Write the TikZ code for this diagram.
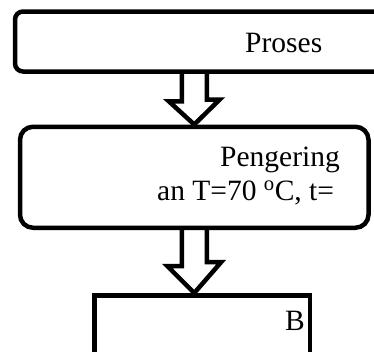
\documentclass[tikz,border=0pt]{standalone}
\usepackage{fontspec}
\setmainfont{Liberation Serif}

\begin{document}
\begin{tikzpicture}[x=1pt, y=-1pt,
    box/.style={draw, line width=4.5pt, inner sep=0pt},
    hollow/.style={draw, line width=4.5pt, line join=miter},
    txt/.style={inner sep=0pt, font=\fontsize{29.5}{33.5}\selectfont}]
    \useasboundingbox (0,0) rectangle (374,351);

    \node [box, rounded corners=8pt, minimum width=375pt, minimum height=60pt] (proses) at (202.5,41.5) {};
    \node [box, rounded corners=13pt, minimum width=348.5pt, minimum height=101pt] (pengering) at (194.25,124.5) [anchor=north] {};
    \node [box, minimum width=215.5pt, minimum height=80pt] (bahan) at (202.25,293) [anchor=north] {};

    \node [txt, anchor=base west] (tproses) at (245,52) {Proses};
    \node [txt, anchor=base west] (tpeng) at (220,166.5) {Pengering};
    \node [txt, anchor=base west] (tsuhu) at (157,200) {an T=70 \textsuperscript{o}C, t=};
    \node [txt, anchor=base west] (tbahan) at (285,330) {B};

    \coordinate (a1) at (proses.south -| pengering.north);
    \draw [hollow] (a1) ++(-12.5,0) -- ++(0,27.5) -- ++(-13,0) -- (pengering.north)
        -- ++(25.5,-25) -- ++(-13,0) -- ++(0,-27.5);
    \draw [hollow] (pengering.south) ++(-12.5,0) -- ++(0,36) -- ++(-14.5,0) -- (pengering.south |- bahan.north)
        -- ++(27,-31) -- ++(-14.5,0) -- ++(0,-36);
\end{tikzpicture}
\end{document}
